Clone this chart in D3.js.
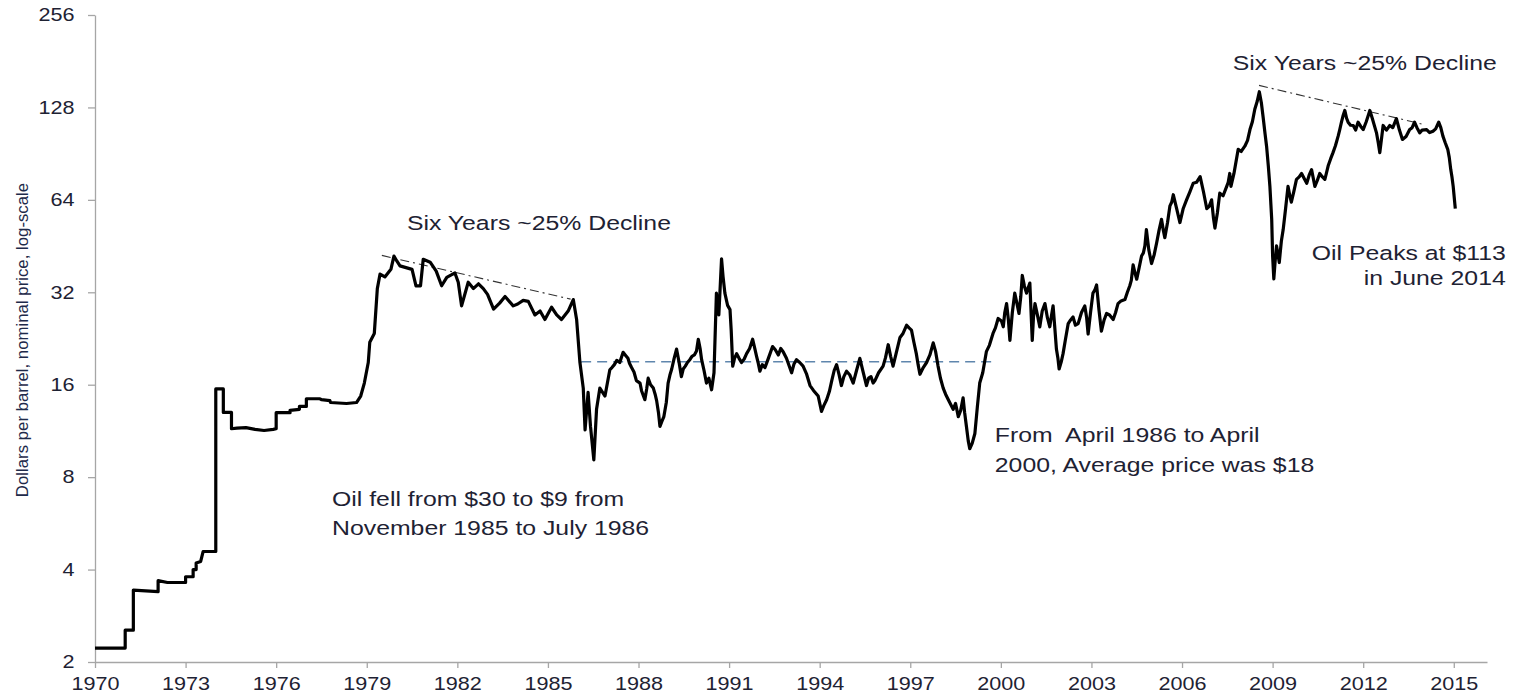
<!DOCTYPE html>
<html lang="en">
<head>
<meta charset="utf-8">
<title>Oil price, log scale</title>
<script src="https://cdn.jsdelivr.net/npm/d3@7"></script>
<style>
  body { margin: 0; background: #fff; }
  svg { display: block; font-family: "Liberation Sans", Arial, sans-serif; }
  .axis path, .axis line { stroke: #a6a6a6; stroke-width: 1.3px; }
  .axis text { font-size: 18px; fill: #1e2233; }
  .price { fill: none; stroke: #000; stroke-width: 3.2px; stroke-linejoin: round; }
  .avg { stroke: #5f86ad; stroke-width: 1.6px; stroke-dasharray: 10 6; }
  .trend { stroke: #333; stroke-width: 1.1px; stroke-dasharray: 9 4 2 4; }
  .note { font-size: 20.5px; fill: #1e2233; white-space: pre; }
  .ytitle { font-size: 16.8px; fill: #1e2a4a; }
</style>
</head>
<body>
<div id="chart"></div>
<script>
// decimal years and price (step pairs for the posted-price era)
var dates = [
  1970.0, 1971.0, 1971.0, 1971.27, 1971.27, 1972.09, 1972.09, 1972.4, 1973.0, 1973.0,
  1973.25, 1973.25, 1973.35, 1973.35, 1973.5, 1973.58, 1974.0, 1974.0, 1974.25, 1974.25,
  1974.52, 1974.52, 1974.7, 1975.0, 1975.3, 1975.6, 1975.9, 1976.0, 1976.0, 1976.46,
  1976.46, 1976.77, 1976.77, 1977.0, 1977.0, 1977.45, 1977.5, 1977.78, 1977.8, 1978.33,
  1978.66, 1978.8, 1978.92, 1979.05, 1979.1, 1979.25, 1979.35, 1979.44, 1979.6, 1979.8,
  1979.9, 1980.0, 1980.1, 1980.3, 1980.5, 1980.63, 1980.78, 1980.87, 1981.1, 1981.3,
  1981.48, 1981.65, 1981.92, 1982.03, 1982.14, 1982.36, 1982.53, 1982.7, 1982.86, 1983.0,
  1983.2, 1983.4, 1983.58, 1983.85, 1984.0, 1984.18, 1984.35, 1984.57, 1984.74, 1984.9,
  1985.12, 1985.29, 1985.45, 1985.67, 1985.84, 1985.95, 1986.06, 1986.17, 1986.23, 1986.33,
  1986.41, 1986.52, 1986.61, 1986.72, 1986.89, 1987.05, 1987.2, 1987.38, 1987.49, 1987.65,
  1987.77, 1987.93, 1988.05, 1988.21, 1988.32, 1988.49, 1988.6, 1988.71, 1988.84, 1988.98,
  1989.1, 1989.26, 1989.42, 1989.55, 1989.7, 1989.85, 1989.98, 1990.09, 1990.25, 1990.42,
  1990.58, 1990.75, 1990.86, 1991.03, 1991.12, 1991.25, 1991.41, 1991.58, 1991.78, 1991.91,
  1992.02, 1992.19, 1992.44, 1992.63, 1992.79, 1993.07, 1993.23, 1993.45, 1993.68, 1993.95,
  1994.06, 1994.23, 1994.4, 1994.56, 1994.72, 1994.89, 1995.11, 1995.33, 1995.55, 1995.7,
  1995.83, 1996.1, 1996.27, 1996.43, 1996.66, 1996.88, 1997.04, 1997.2, 1997.32, 1997.54,
  1997.76, 1997.92, 1998.09, 1998.26, 1998.42, 1998.59, 1998.75, 1998.86, 1998.97, 1999.14,
  1999.3, 1999.52, 1999.74, 1999.91, 2000.08, 2000.19, 2000.3, 2000.46, 2000.6, 2000.71,
  2000.85, 2000.96, 2001.04, 2001.13, 2001.29, 2001.46, 2001.62, 2001.73, 2001.84, 2001.93,
  2002.06, 2002.23, 2002.39, 2002.56, 2002.78, 2002.89, 2003.05, 2003.17, 2003.33, 2003.5,
  2003.72, 2003.88, 2004.11, 2004.27, 2004.38, 2004.5, 2004.66, 2004.77, 2004.82, 2004.99,
  2005.16, 2005.32, 2005.43, 2005.6, 2005.71, 2005.93, 2006.15, 2006.37, 2006.6, 2006.82,
  2006.98, 2007.09, 2007.25, 2007.48, 2007.58, 2007.62, 2007.86, 2008.08, 2008.25, 2008.41,
  2008.56, 2008.69, 2008.8, 2008.91, 2008.97, 2009.04, 2009.13, 2009.22, 2009.35, 2009.51,
  2009.62, 2009.79, 2009.96, 2010.13, 2010.29, 2010.4, 2010.56, 2010.73, 2010.84, 2011.0,
  2011.17, 2011.28, 2011.39, 2011.5, 2011.67, 2011.83, 2012.0, 2012.22, 2012.44, 2012.55,
  2012.66, 2012.88, 2013.1, 2013.3, 2013.54, 2013.7, 2013.87, 2014.1, 2014.31, 2014.5,
  2014.64, 2014.8, 2014.9, 2014.98, 2015.05
];
var prices = [
  2.22, 2.22, 2.54, 2.54, 3.43, 3.39, 3.68, 3.63, 3.63, 3.79,
  3.79, 4.0, 4.0, 4.2, 4.25, 4.58, 4.58, 15.5, 15.5, 13.0,
  13.0, 11.5, 11.55, 11.6, 11.45, 11.35, 11.45, 11.5, 12.97, 12.97,
  13.2, 13.3, 13.6, 13.6, 14.4, 14.4, 14.3, 14.2, 14.0, 13.9,
  14.0, 14.7, 16.2, 18.9, 22.0, 23.5, 32.9, 36.7, 35.9, 38.0,
  42.0, 40.4, 39.0, 38.5, 38.0, 33.6, 33.6, 41.0, 40.1, 37.5,
  33.6, 35.8, 37.0, 34.5, 28.9, 34.5, 32.9, 34.1, 32.9, 31.5,
  28.2, 29.5, 31.0, 28.9, 29.3, 30.1, 29.9, 27.0, 27.8, 26.1,
  28.6, 27.0, 26.1, 27.8, 30.3, 26.1, 18.9, 15.6, 11.4, 15.1,
  11.7, 9.1, 13.3, 15.6, 14.7, 17.9, 18.6, 18.9, 20.4, 19.5,
  18.2, 16.5, 16.2, 14.3, 16.8, 15.6, 14.2, 11.7, 12.6, 16.2,
  18.0, 20.9, 17.0, 18.4, 19.3, 20.0, 22.5, 19.3, 16.2, 15.4,
  31.8, 41.1, 31.8, 28.1, 18.4, 20.2, 18.9, 20.2, 22.5, 19.8,
  17.7, 18.2, 21.3, 20.0, 20.5, 17.5, 19.3, 18.4, 15.9, 14.7,
  13.1, 14.3, 16.5, 18.6, 15.9, 17.7, 16.2, 19.5, 15.9, 17.0,
  16.5, 18.4, 21.6, 18.4, 22.8, 25.0, 24.1, 20.2, 17.3, 18.9,
  21.9, 18.4, 15.6, 14.3, 13.3, 12.6, 14.5, 11.7, 9.9, 11.1,
  16.2, 20.5, 23.5, 26.3, 24.7, 29.4, 22.3, 31.8, 27.3, 36.3,
  31.8, 34.3, 22.3, 29.4, 24.7, 29.4, 24.7, 28.9, 20.9, 18.0,
  20.2, 25.3, 26.6, 25.3, 28.9, 23.4, 31.8, 33.8, 23.9, 27.3,
  26.1, 29.4, 30.3, 33.6, 39.3, 35.3, 42.0, 45.3, 51.2, 39.7,
  46.4, 55.3, 48.2, 61.2, 66.5, 54.0, 64.0, 72.5, 76.2, 59.9,
  64.0, 51.8, 67.3, 70.8, 78.0, 70.8, 93.5, 95.7, 108.4, 126.3,
  144.0, 118.0, 95.7, 70.8, 55.3, 35.4, 45.3, 40.0, 51.2, 70.8,
  62.9, 74.6, 78.0, 72.5, 80.3, 70.8, 78.0, 74.6, 82.6, 91.2,
  103.2, 114.6, 125.1, 114.6, 111.8, 114.6, 108.4, 125.1, 105.8, 91.2,
  111.8, 111.8, 117.7, 100.7, 108.4, 114.6, 105.8, 108.4, 107.1, 114.6,
  103.2, 93.5, 80.3, 70.8, 59.9
];

// in-between readings of the week-to-week wiggle, 1987 onwards
var wiggleDates = [
  1987.12, 1987.28, 1987.43, 1987.56, 1987.7, 1987.85,
  1988.1, 1988.27, 1988.4, 1988.55, 1988.66, 1988.78, 1988.92,
  1989.04, 1989.18, 1989.34, 1989.48, 1989.62, 1989.77, 1989.92,
  1990.04, 1990.17, 1990.33, 1990.5, 1990.66, 1990.8, 1990.95,
  1991.07, 1991.18, 1991.33, 1991.5, 1991.68, 1991.85, 1991.96,
  1992.1, 1992.3, 1992.53, 1992.71, 1992.9,
  1993.15, 1993.34, 1993.56, 1993.8,
  1994.14, 1994.32, 1994.48, 1994.64, 1994.8,
  1995.0, 1995.22, 1995.44, 1995.62, 1995.77, 1995.95,
  1996.18, 1996.35, 1996.53, 1996.76, 1996.96,
  1997.12, 1997.26, 1997.43, 1997.65, 1997.84,
  1998.0, 1998.17, 1998.34, 1998.5, 1998.67, 1998.8, 1998.92,
  1999.05, 1999.22, 1999.4, 1999.62, 1999.82,
  2000.02, 2000.13, 2000.25, 2000.38, 2000.53, 2000.66, 2000.78, 2000.9,
  2001.08, 2001.21, 2001.37, 2001.54, 2001.68, 2001.78, 2001.89,
  2002.0, 2002.14, 2002.31, 2002.47, 2002.67, 2002.84, 2002.97,
  2003.11, 2003.25, 2003.42, 2003.6, 2003.8, 2003.98,
  2004.19, 2004.32, 2004.44, 2004.58, 2004.72, 2004.9,
  2005.08, 2005.24, 2005.38, 2005.52, 2005.66, 2005.82,
  2006.04, 2006.26, 2006.48, 2006.71, 2006.9,
  2007.04, 2007.17, 2007.36, 2007.53, 2007.72, 2007.96,
  2008.17, 2008.33, 2008.49, 2008.63, 2008.75, 2008.86,
  2009.0, 2009.08, 2009.17, 2009.29, 2009.43, 2009.57, 2009.7, 2009.88,
  2010.05, 2010.21, 2010.35, 2010.48, 2010.65, 2010.78, 2010.92,
  2011.08, 2011.22, 2011.33, 2011.45, 2011.58, 2011.75, 2011.92,
  2012.1, 2012.3, 2012.5, 2012.6, 2012.77, 2012.98,
  2013.2, 2013.42, 2013.62, 2013.78, 2013.95,
  2014.2, 2014.4, 2014.57, 2014.72, 2014.85, 2014.94
];
var wigglePrices = [
  18.2, 19.2, 19.6, 20.0, 18.8, 17.6,
  15.3, 15.5, 16.0, 14.9, 13.0, 12.2, 14.0,
  17.2, 19.5, 19.0, 18.0, 18.9, 19.8, 20.6,
  21.0, 17.8, 16.8, 17.5, 27.0, 36.0, 29.0,
  24.0, 19.5, 19.5, 19.4, 21.0, 21.0, 18.9,
  18.6, 19.5, 20.8, 21.0, 19.5,
  18.7, 18.9, 17.4, 15.3,
  13.7, 15.2, 17.8, 17.3, 17.0,
  17.2, 17.8, 17.6, 16.8, 16.2, 17.5,
  19.6, 19.8, 20.2, 23.5, 24.5,
  22.0, 18.6, 18.2, 20.0, 20.5,
  16.8, 14.9, 13.8, 13.9, 13.2, 13.0, 10.5,
  10.3, 13.5, 17.5, 21.5, 24.5,
  25.8, 27.5, 26.0, 27.5, 29.5, 31.0, 33.5, 33.0,
  26.5, 27.0, 27.8, 26.5, 27.0, 25.0, 19.5,
  19.0, 22.5, 26.0, 25.0, 27.5, 26.5, 27.5,
  32.5, 28.0, 26.0, 27.0, 27.5, 30.0,
  32.0, 35.0, 37.0, 38.5, 43.0, 44.0,
  42.5, 51.0, 51.0, 54.0, 63.0, 60.0,
  60.0, 68.0, 73.0, 68.0, 61.0,
  56.0, 58.0, 66.0, 73.0, 78.0, 92.0,
  100.0, 115.0, 134.0, 132.0, 105.0, 82.0,
  42.0, 40.0, 43.0, 47.0, 60.0, 66.0, 68.0, 76.0,
  75.0, 77.0, 75.0, 74.0, 76.0, 78.0, 87.0,
  96.0, 108.0, 120.0, 118.0, 112.0, 108.0, 111.0,
  115.0, 118.0, 98.0, 100.0, 108.0, 110.0,
  108.0, 103.0, 110.0, 110.0, 108.0,
  106.0, 109.0, 110.0, 98.0, 88.0, 76.0
];

var yearTicks = d3.range(1970, 2016, 3);
var priceTicks = [2, 4, 8, 16, 32, 64, 128, 256];

// average price Apr 1986 - Apr 2000 (dashed line)
var avgSpan = [1986.1, 1999.85];
var avgPrice = 19.0;

// "six years ~25% decline" trend lines: [year, price] ends
var trend1 = [[1979.5, 42.2], [1985.75, 30.4]];
var trend2 = [[2008.55, 151], [2013.95, 113]];

var notes = [
  {lines: ["Six Years ~25% Decline"], year: 1980.33, price: [50.9], anchor: "start"},
  {lines: ["Six Years ~25% Decline"], year: 2007.68, price: [170], anchor: "start"},
  {lines: ["Oil fell from $30 to $9 from", "November 1985 to July 1986"], year: 1977.85, price: [6.45, 5.19], anchor: "start"},
  {lines: ["From  April 1986 to April", "2000, Average price was $18"], year: 1999.8, price: [10.4, 8.33], anchor: "start"},
  {lines: ["Oil Peaks at $113", "in June 2014"], year: 2016.72, price: [40.9, 33.9], anchor: "end"}
];

var W = 1519, H = 696;
var margin = {top: 15, right: 32, bottom: 34, left: 95};
var sx = 1.2; // horizontal stretch of the lettering in the source picture

var svg = d3.select("#chart").append("svg")
    .attr("width", W)
    .attr("height", H);

var x = d3.scaleLinear().domain([1970, 2016.1]).range([margin.left, W - margin.right]);
var y = d3.scaleLog().base(2).domain([2, 256]).range([H - margin.bottom, margin.top]);

var data = dates.map(function(d, i) { return {year: d, price: prices[i]}; })
    .concat(wiggleDates.map(function(d, i) { return {year: d, price: wigglePrices[i]}; }));
// stable sort keeps the step pairs in order
data.sort(function(a, b) { return a.year - b.year; });

// axes
var yAxis = d3.axisLeft(y).tickValues(priceTicks).tickFormat(d3.format("d"))
    .tickSize(7).tickPadding(10).tickSizeOuter(0);
var xAxis = d3.axisBottom(x).tickValues(yearTicks).tickFormat(d3.format("d"))
    .tickSize(6).tickPadding(9).tickSizeOuter(0);

svg.append("g")
    .attr("class", "axis axis--y")
    .attr("transform", "translate(" + margin.left + ",0)")
    .call(yAxis)
  .selectAll("text")
    .attr("transform", "scale(" + sx + ",1)");

svg.append("g")
    .attr("class", "axis axis--x")
    .attr("transform", "translate(0," + (H - margin.bottom) + ")")
    .call(xAxis)
  .selectAll("text")
    .attr("transform", "scale(" + sx + ",1)");

svg.selectAll(".axis .domain").attr("stroke", "#a6a6a6");

svg.append("text")
    .attr("class", "ytitle")
    .attr("transform", "translate(28,340) rotate(-90)")
    .attr("text-anchor", "middle")
    .text("Dollars per barrel, nominal price, log-scale");

// average + trend lines
svg.append("line")
    .attr("class", "avg")
    .attr("x1", x(avgSpan[0])).attr("x2", x(avgSpan[1]))
    .attr("y1", y(avgPrice)).attr("y2", y(avgPrice));

[trend1, trend2].forEach(function(t) {
  svg.append("line")
      .attr("class", "trend")
      .attr("x1", x(t[0][0])).attr("y1", y(t[0][1]))
      .attr("x2", x(t[1][0])).attr("y2", y(t[1][1]));
});

// price line
var line = d3.line()
    .x(function(d) { return x(d.year); })
    .y(function(d) { return y(d.price); });

svg.append("path")
    .datum(data)
    .attr("class", "price")
    .attr("d", line);

// annotations
notes.forEach(function(n) {
  n.lines.forEach(function(txt, i) {
    svg.append("text")
        .attr("class", "note")
        .attr("text-anchor", n.anchor)
        .attr("transform", "translate(" + x(n.year) + "," + y(n.price[i]) + ") scale(1.21,1)")
        .text(txt);
  });
});
</script>
</body>
</html>
